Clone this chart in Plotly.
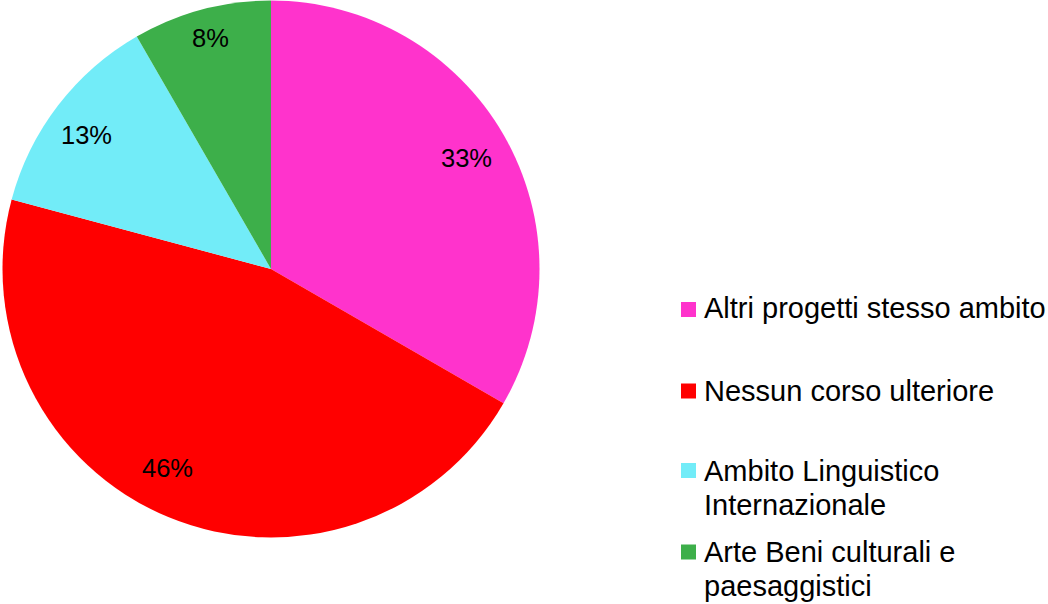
import math
import plotly.graph_objects as go

labels = ["Altri progetti stesso ambito", "Nessun corso ulteriore",
          "Ambito Linguistico<br>Internazionale", "Arte Beni culturali e<br>paesaggistici"]
values = [8, 11, 3, 2]
colors = ["#FF33CC", "#FF0000", "#72ECF8", "#3DAF4A"]

# label placement style (radius fraction, angular nudge in degrees)
label_r = [0.838, 0.834, 0.849, 0.89]
label_dang = [0.5, 4.9, -1.5, 0.4]

W, H = 1048, 604
cx, cy, R = 271, 269, 268.5  # pie center / radius in pixels (layout)

fig = go.Figure(go.Pie(
    labels=labels, values=values, sort=False, direction="clockwise", rotation=0,
    marker=dict(colors=colors, line=dict(width=0)),
    textinfo="none", showlegend=False, hoverinfo="label+percent",
    domain=dict(x=[(cx - R) / W, (cx + R) / W], y=[(H - cy - R) / H, min(1, (H - cy + R) / H)]),
))

total = sum(values)
annotations = []
shapes = []
cum = 0
for v, rf, da in zip(values, label_r, label_dang):
    mid = (cum + v / 2) / total * 2 * math.pi + math.radians(da)
    cum += v
    r = rf * R
    px = cx + r * math.sin(mid)
    py = cy - r * math.cos(mid)
    annotations.append(dict(
        x=px / W, y=1 - py / H, xref="paper", yref="paper",
        text=f"{math.floor(v / total * 100 + 0.5)}%", showarrow=False,
        font=dict(family="Liberation Sans, Arial", size=25.5, color="#000000"),
        xanchor="center", yanchor="middle"))

# legend (manual)
line_centers = [[308], [391], [471, 505], [552, 585.5]]
square_centers = [309.5, 391, 470.5, 552]
for lab, col, lcs, sc in zip(labels, colors, line_centers, square_centers):
    for line, lc in zip(lab.split("<br>"), lcs):
        annotations.append(dict(
            x=702 / W, y=1 - lc / H, xref="paper", yref="paper", text=line,
            showarrow=False, align="left", xanchor="left", yanchor="middle",
            font=dict(family="Liberation Sans, Arial", size=29, color="#000000")))
    shapes.append(dict(type="rect", xref="paper", yref="paper",
                       x0=681 / W, x1=696 / W, y0=1 - (sc + 7.5) / H, y1=1 - (sc - 7.5) / H,
                       fillcolor=col, line=dict(width=0)))

fig.update_layout(width=W, height=H, margin=dict(l=0, r=0, t=0, b=0),
                  paper_bgcolor="white", plot_bgcolor="white",
                  annotations=annotations, shapes=shapes)
fig.write_html("out.html", config={"displayModeBar": False},
               post_script="document.body.style.margin='0';")
